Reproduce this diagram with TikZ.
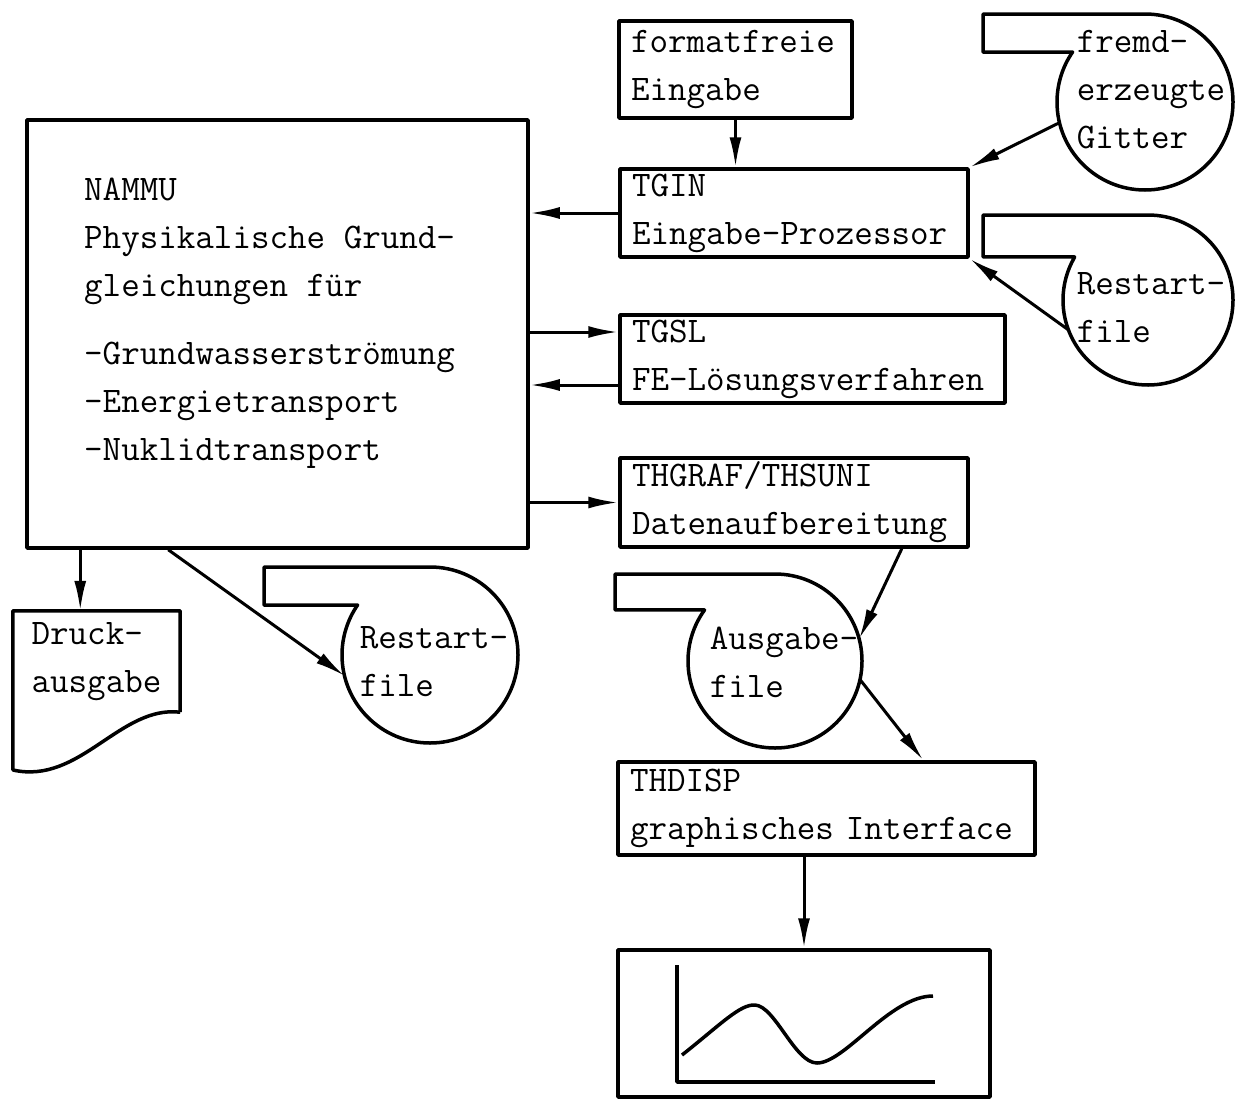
\documentclass[tikz,border=0pt]{standalone}
\usepackage{fontspec}
\usetikzlibrary{arrows.meta,calc}
\tikzset{
    fg/.style={line width=3.5pt, line join=round},
    txt/.style={font=\ttfamily\fontsize{36}{48}\selectfont, align=left},
    prog/.style={fg, draw, rectangle, txt, inner xsep=12pt, inner ysep=0pt},
    tapetext/.style={txt, inner sep=0pt},
    flow/.style={->, line width=3pt},
    >={Latex[length=30pt,width=12pt]}
}

\begin{document}
\begin{tikzpicture}[x=1pt,y=1pt]
	\useasboundingbox (0,0) rectangle (1241,-1100);
	% programme
	\node[prog, text width=209pt, minimum height=97pt] (ffe) at (735.5,-69.5) {formatfreie\\Eingabe};
	\node[prog, text width=324pt, minimum height=88pt] (tgin) at (794,-213) {TGIN\\Eingabe-Prozessor};
	\node[prog, text width=361pt, minimum height=88pt] (tgsl) at (812.5,-359) {TGSL\\FE-Lösungsverfahren};
	\node[prog, text width=324pt, minimum height=89pt] (thgraf) at (794,-502.5) {THGRAF/THSUNI\\Datenaufbereitung};
	\node[prog, text width=393pt, minimum height=93pt] (thdisp) at (826.5,-808.5) {THDISP\\graphisches Interface};
	\node[prog, minimum width=501pt, minimum height=428pt] (nammu) at (277.5,-334) {};
	\node[txt, anchor=north west, inner sep=0pt] (nammutext) at (84,-178)
		{NAMMU\\Physikalische Grund-\\gleichungen für\\[20pt]-Grundwasserströmung\\-Energietransport\\-Nuklidtransport};

	% baender
	\coordinate (gitter) at (1145,-102);
	\draw[fg] (983,-14) coordinate (gitter-t) -- ($(gitter)+(0,88)$)
		arc[start angle=90, end angle=-214.6, radius=88] coordinate (gitter-e) -- (gitter-e -| gitter-t) -- cycle;
	\node[tapetext] (gittertext) at (1151,-90) {fremd-\\erzeugte\\Gitter};

	\coordinate (rest1) at (1148,-300);
	\draw[fg] (983,-215) coordinate (rest1-t) -- ($(rest1)+(0,85)$)
		arc[start angle=90, end angle=-210.4, radius=85] coordinate (rest1-e) -- (rest1-e -| rest1-t) -- cycle;
	\node[tapetext] (rest1text) at (1151,-308) {Restart-\\file};

	\coordinate (rest2) at (430,-655);
	\draw[fg] (264,-567) coordinate (rest2-t) -- ($(rest2)+(0,88)$)
		arc[start angle=90, end angle=-214.6, radius=88] coordinate (rest2-e) -- (rest2-e -| rest2-t) -- cycle;
	\node[tapetext] (rest2text) at (434,-662) {Restart-\\file};

	\coordinate (ausgabe) at (775,-661);
	\draw[fg] (615,-574) coordinate (ausgabe-t) -- ($(ausgabe)+(0,87)$)
		arc[start angle=90, end angle=-215.9, radius=87] coordinate (ausgabe-e) -- (ausgabe-e -| ausgabe-t) -- cycle;
	\node[tapetext] (ausgabetext) at (784,-662) {Ausgabe-\\file};

	% druckausgabe
	\node[txt, minimum width=167pt, minimum height=101pt, inner sep=0pt] (druck) at (96.5,-661.5) {Druck-\\ausgabe};
	\draw[fg] (druck.south east) -- (druck.north east) -- (druck.north west) -- (13,-770)
		.. controls (80,-785) and (120,-705) .. (druck.south east);

	% grafik
	\node[fg, draw, minimum width=372pt, minimum height=147pt] (plot) at (804,-1023.5) {};
	\draw[fg] (677,-965) -- (677,-1082) -- (935,-1082);
	\draw[fg] (682,-1055) .. controls (720,-1025) and (740,-1004) .. (755,-1005)
		.. controls (775,-1006) and (795,-1063) .. (817,-1063)
		.. controls (845,-1063) and (890,-996) .. (933,-996);

	% verbindungen
	\coordinate (tgslin) at ($(tgsl.west)+(0,27)$);
	\coordinate (tgslout) at ($(tgsl.west)+(0,-26)$);
	\coordinate (nammu-dr) at ($(nammu.south west)+(55,0)$);
	\draw[flow] (ffe.south) -- (ffe.south |- tgin.north);
	\draw[flow] ($(gitter)+(193.6:88)$) -- (tgin.north east);
	\draw[flow] ($(rest1)+(200.6:85)$) -- (tgin.south east);
	\draw[flow] (tgin.west) -- (tgin.west -| nammu.east);
	\draw[flow] (nammu.east |- tgslin) -- (tgslin);
	\draw[flow] (tgslout) -- (tgslout -| nammu.east);
	\draw[flow] (nammu.east |- thgraf.west) -- (thgraf.west);
	\draw[flow] (nammu-dr) -- (nammu-dr |- druck.north);
	\draw[flow] ($(nammu.south west)+(143,0)$) -- ($(rest2)+(193.7:88)$);
	\draw[flow] ($(thgraf.south east)+(-68,0)$) -- ($(ausgabe)+(14.7:87)$);
	\draw[flow] ($(ausgabe)+(-12.3:87)$) -- ($(thdisp.north west)+(307,0)$);
	\draw[flow] (plot.north |- thdisp.south) -- (plot.north);
\end{tikzpicture}
\end{document}
